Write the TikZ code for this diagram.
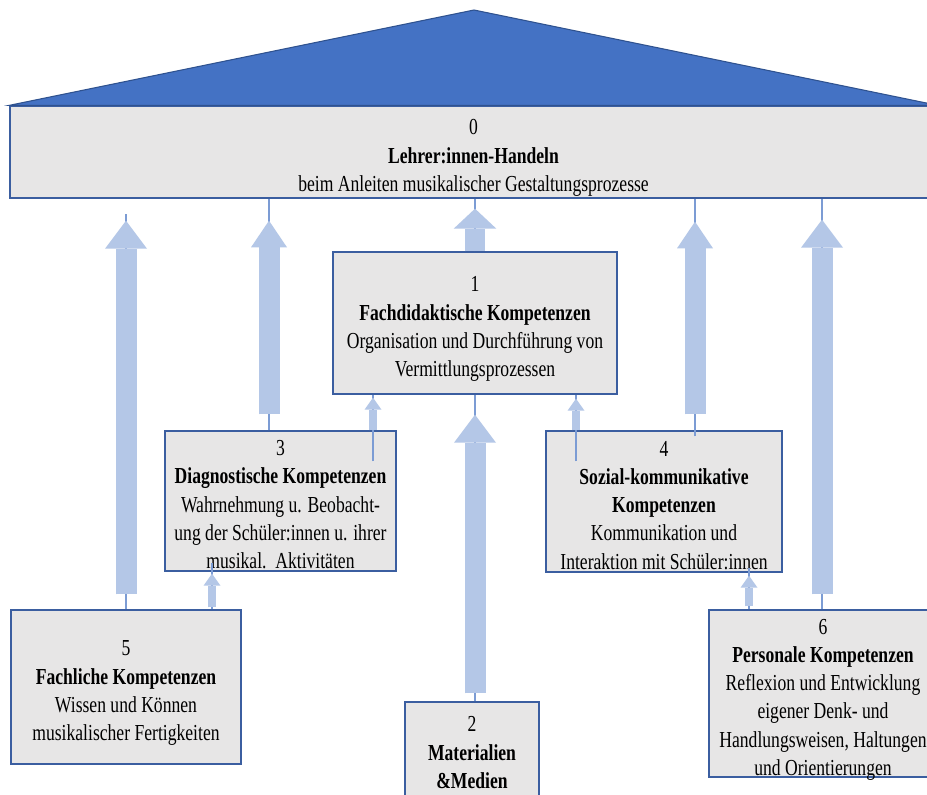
\documentclass[tikz,border=0pt]{standalone}
\usepackage{fontspec}
\setmainfont{Liberation Serif}
\usepackage{graphicx}
\usetikzlibrary{shapes,arrows.meta,calc}
\definecolor{RoofBlue}{RGB}{68,114,196}
\definecolor{RoofEdge}{RGB}{47,82,143}
\definecolor{BoxGray}{RGB}{231,230,230}
\definecolor{BoxEdge}{RGB}{59,94,160}
\definecolor{ArrowBlue}{RGB}{180,199,231}
\definecolor{LinkBlue}{RGB}{124,156,212}
\newcommand{\boxlines}[1]{\raisebox{-8pt}[0pt][0pt]{\scalebox{1}[1.3]{\begin{tabular}{@{}c@{}}#1\end{tabular}}}}

\begin{document}
\begin{tikzpicture}[x=0.75pt,y=-0.75pt]
	\tikzstyle{compbox}=[draw=BoxEdge, line width=1pt, fill=BoxGray, inner sep=0pt, font=\fontsize{13.2}{16.3}\selectfont]
	\tikzstyle{link}=[draw=LinkBlue, line width=0.8pt]
	\tikzstyle{bigarrow}=[draw=ArrowBlue, line width=15.75pt, -{Triangle[width=31.5pt,length=21pt,line width=0pt]}]
	\tikzstyle{midarrow}=[draw=ArrowBlue, line width=15.75pt, -{Triangle[width=27pt,length=20pt,line width=0pt]}]
	\tikzstyle{shortarrow}=[draw=ArrowBlue, line width=15pt, -{Triangle[width=32pt,length=15pt,line width=0pt]}]
	\tikzstyle{smallarrow}=[draw=ArrowBlue, line width=6.4pt, -{Triangle[width=12.75pt,length=9pt,line width=0pt]}]
	\useasboundingbox (0,0) rectangle (927,794);
	\clip (0,0) rectangle (927,794);
	\fill[white] (0,0) rectangle (927,794);
	% boxes
	\node[compbox, minimum width=695.25pt, minimum height=69pt] (n0) at (473.5,152) {\boxlines{0\\\textbf{Lehrer:innen-Handeln}\\beim Anleiten musikalischer Gestaltungsprozesse}};
	\coordinate (apex) at (474,10);
	\filldraw[fill=RoofBlue, draw=RoofEdge, line width=0.8pt] (n0.north west) -- (apex) -- (n0.north east) -- cycle;
	\node[compbox, minimum width=213pt, minimum height=106.5pt] (n1) at (475,323) {\boxlines{1\\\textbf{Fachdidaktische Kompetenzen}\\Organisation und Durchführung von\\Vermittlungsprozessen}};
	\node[compbox, minimum width=173.25pt, minimum height=105pt] (n3) at (280.5,501) {\boxlines{3\\\textbf{Diagnostische Kompetenzen}\\Wahrnehmung u. Beobacht-\\ung der Schüler:innen u. ihrer\\musikal.\ \ Aktivitäten}};
	\node[compbox, minimum width=177pt, minimum height=105.75pt] (n4) at (664,501.5) {\boxlines{4\\\textbf{Sozial-kommunikative}\\\textbf{Kompetenzen}\\Kommunikation und\\Interaktion mit Schüler:innen}};
	\node[compbox, minimum width=172.5pt, minimum height=115.5pt] (n5) at (126,687) {\boxlines{5\\\textbf{Fachliche Kompetenzen}\\Wissen und Können\\musikalischer Fertigkeiten}};
	\node[compbox, minimum width=171pt, minimum height=125.25pt] (n6) at (823,693.5) {\boxlines{6\\\textbf{Personale Kompetenzen}\\Reflexion und Entwicklung\\eigener Denk- und\\Handlungsweisen, Haltungen\\und Orientierungen}};
	\node[compbox, minimum width=100.5pt, minimum height=70.5pt] (n2) at (472,749) {\boxlines{2\\\textbf{Materialien}\\\textbf{\&Medien}}};
	% roots of the connectors
	\coordinate (r5) at (n5.north);
	\coordinate (r3) at ($(n3.north)+(-11.5,0)$);
	\coordinate (r1) at (n1.north);
	\coordinate (r4) at ($(n4.north)+(31,0)$);
	\coordinate (r6) at ($(n6.north)+(-1,0)$);
	\coordinate (r2) at (n1.south |- n2.north);
	\coordinate (r31) at ($(n3.north)+(92.5,31)$);
	\coordinate (r41) at ($(n4.north)+(-88,31)$);
	\coordinate (r53) at ($(n5.north)+(86,0)$);
	\coordinate (r64) at ($(n6.north)+(-74,0)$);
	% thin links
	\draw[link] (r5) -- ($(r5 |- n0.south)+(0,15)$);
	\draw[link] (r3) -- (r3 |- n0.south);
	\draw[link] (r1) -- (r1 |- n0.south);
	\draw[link] ($(r4)+(0,6)$) -- (r4 |- n0.south);
	\draw[link] (r6) -- (r6 |- n0.south);
	\draw[link] (r2) -- (n1.south);
	\draw[link] (r31) -- (r31 |- n1.south);
	\draw[link] (r41) -- (r41 |- n1.south);
	\draw[link] (r53) -- ($(r53 |- n3.south)+(0,-9)$);
	\draw[link] (r64) -- ($(r64 |- n4.south)+(0,-5)$);
	% block arrows
	\draw[bigarrow] ($(r5)+(0,-15)$) -- ($(r5 |- n0.south)+(0,22)$);
	\draw[midarrow] ($(r3)+(0,-16)$) -- ($(r3 |- n0.south)+(0,22)$);
	\draw[shortarrow] (r1) -- ($(r1 |- n0.south)+(0,10)$);
	\draw[midarrow] ($(r4)+(0,-16)$) -- ($(r4 |- n0.south)+(0,23)$);
	\draw[bigarrow] ($(r6)+(0,-15)$) -- ($(r6 |- n0.south)+(0,21)$);
	\draw[bigarrow] ($(r2)+(0,-8)$) -- ($(n1.south)+(0,20)$);
	\draw[smallarrow] (r31 |- n3.north) -- ($(r31 |- n1.south)+(0,3)$);
	\draw[smallarrow] (r41 |- n4.north) -- ($(r41 |- n1.south)+(0,4)$);
	\draw[smallarrow] ($(r53)+(0,-2)$) -- ($(r53 |- n3.south)+(0,2)$);
	\draw[smallarrow] ($(r64)+(0,-3)$) -- ($(r64 |- n4.south)+(0,3)$);
\end{tikzpicture}
\end{document}
